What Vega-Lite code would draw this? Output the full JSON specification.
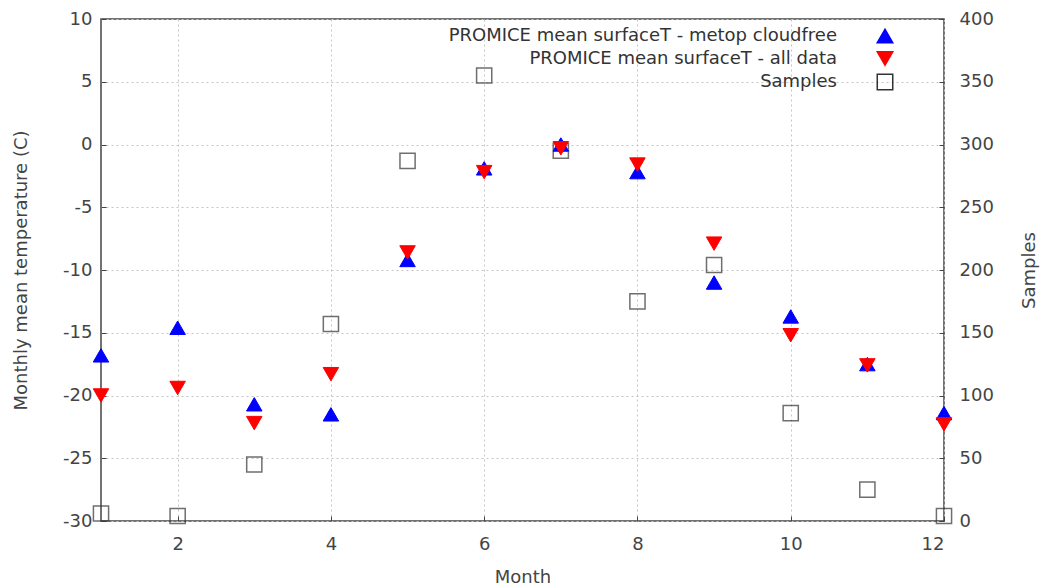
{
  "$schema": "https://vega.github.io/schema/vega-lite/v6.json",
  "width": 843,
  "height": 502,
  "autosize": {"type": "none"},
  "padding": {"left": 101, "top": 19, "right": 97, "bottom": 65},
  "background": "white",
  "datasets": {
    "temps": [
      {"month": 1, "series": "PROMICE mean surfaceT - metop cloudfree", "value": -16.8},
      {"month": 2, "series": "PROMICE mean surfaceT - metop cloudfree", "value": -14.6},
      {"month": 3, "series": "PROMICE mean surfaceT - metop cloudfree", "value": -20.7},
      {"month": 4, "series": "PROMICE mean surfaceT - metop cloudfree", "value": -21.5},
      {"month": 5, "series": "PROMICE mean surfaceT - metop cloudfree", "value": -9.2},
      {"month": 6, "series": "PROMICE mean surfaceT - metop cloudfree", "value": -1.9},
      {"month": 7, "series": "PROMICE mean surfaceT - metop cloudfree", "value": 0.0},
      {"month": 8, "series": "PROMICE mean surfaceT - metop cloudfree", "value": -2.2},
      {"month": 9, "series": "PROMICE mean surfaceT - metop cloudfree", "value": -11.0},
      {"month": 10, "series": "PROMICE mean surfaceT - metop cloudfree", "value": -13.7},
      {"month": 11, "series": "PROMICE mean surfaceT - metop cloudfree", "value": -17.5},
      {"month": 12, "series": "PROMICE mean surfaceT - metop cloudfree", "value": -21.4},
      {"month": 1, "series": "PROMICE mean surfaceT - all data", "value": -20.0},
      {"month": 2, "series": "PROMICE mean surfaceT - all data", "value": -19.4},
      {"month": 3, "series": "PROMICE mean surfaceT - all data", "value": -22.2},
      {"month": 4, "series": "PROMICE mean surfaceT - all data", "value": -18.3},
      {"month": 5, "series": "PROMICE mean surfaceT - all data", "value": -8.6},
      {"month": 6, "series": "PROMICE mean surfaceT - all data", "value": -2.2},
      {"month": 7, "series": "PROMICE mean surfaceT - all data", "value": -0.3},
      {"month": 8, "series": "PROMICE mean surfaceT - all data", "value": -1.6},
      {"month": 9, "series": "PROMICE mean surfaceT - all data", "value": -7.9},
      {"month": 10, "series": "PROMICE mean surfaceT - all data", "value": -15.2},
      {"month": 11, "series": "PROMICE mean surfaceT - all data", "value": -17.6},
      {"month": 12, "series": "PROMICE mean surfaceT - all data", "value": -22.3}
    ],
    "samples": [
      {"month": 1, "series": "Samples", "samples": 6},
      {"month": 2, "series": "Samples", "samples": 4},
      {"month": 3, "series": "Samples", "samples": 45},
      {"month": 4, "series": "Samples", "samples": 157},
      {"month": 5, "series": "Samples", "samples": 287},
      {"month": 6, "series": "Samples", "samples": 355},
      {"month": 7, "series": "Samples", "samples": 295},
      {"month": 8, "series": "Samples", "samples": 175},
      {"month": 9, "series": "Samples", "samples": 204},
      {"month": 10, "series": "Samples", "samples": 86},
      {"month": 11, "series": "Samples", "samples": 25},
      {"month": 12, "series": "Samples", "samples": 4}
    ]
  },
  "layer": [
    {
      "data": {"name": "samples"},
      "mark": {"type": "point", "size": 230, "strokeWidth": 1.5, "clip": false},
      "encoding": {
        "x": {"field": "month", "type": "quantitative", "scale": {"domain": [1, 12], "nice": false, "zero": false},
              "axis": {"title": "Month", "values": [2, 4, 6, 8, 10, 12], "labelExpr": "'' + datum.value"}},
        "y": {"field": "samples", "type": "quantitative", "scale": {"domain": [0, 400], "nice": false},
              "axis": {"orient": "right", "title": "Samples", "titleAngle": 270, "titleBaseline": "bottom", "values": [0, 50, 100, 150, 200, 250, 300, 350, 400], "grid": false, "labelPadding": 20, "titlePadding": 45, "labelExpr": "'' + datum.value"}},
        "shape": {"field": "series", "type": "nominal", "scale": {"domain": ["PROMICE mean surfaceT - metop cloudfree", "PROMICE mean surfaceT - all data", "Samples"], "range": ["triangle-up", "triangle-down", "square"]}},
        "fill": {"field": "series", "type": "nominal", "scale": {"domain": ["PROMICE mean surfaceT - metop cloudfree", "PROMICE mean surfaceT - all data", "Samples"], "range": ["#0000ff", "#ff0000", "transparent"]}},
        "stroke": {"field": "series", "type": "nominal", "scale": {"domain": ["PROMICE mean surfaceT - metop cloudfree", "PROMICE mean surfaceT - all data", "Samples"], "range": ["#0000ff", "#ff0000", "#333333"]}}
      }
    },
    {
      "data": {"name": "temps"},
      "mark": {"type": "point", "size": 240, "filled": true, "opacity": 1, "strokeWidth": 1, "clip": false},
      "encoding": {
        "x": {"field": "month", "type": "quantitative"},
        "y": {"field": "value", "type": "quantitative", "scale": {"domain": [-30, 10], "nice": false},
              "axis": {"orient": "left", "title": "Monthly mean temperature (C)", "values": [-30, -25, -20, -15, -10, -5, 0, 5, 10], "grid": true, "titlePadding": 32, "labelExpr": "'' + datum.value"}},
        "shape": {"field": "series", "type": "nominal"},
        "fill": {"field": "series", "type": "nominal"},
        "stroke": {"field": "series", "type": "nominal"}
      }
    }
  ],
  "resolve": {"scale": {"y": "independent"}},
  "config": {
    "view": {"stroke": "#444444", "strokeWidth": 1.5},
    "font": "DejaVu Sans",
    "axis": {
      "labelFont": "DejaVu Sans", "titleFont": "DejaVu Sans",
      "labelFontSize": 18, "titleFontSize": 18, "titleFontWeight": "normal",
      "labelColor": "#444444", "titleColor": "#444444",
      "domain": false, "tickColor": "#444444", "tickSize": -5, "labelPadding": 14,
      "gridColor": "#c4c4c4", "gridDash": [2, 3], "gridWidth": 1
    },
    "axisX": {"grid": true, "labelPadding": 19, "titlePadding": 15},
    "legend": {
      "title": null, "orient": "none", "legendX": 775, "legendY": 8,
      "labelFont": "DejaVu Sans", "labelFontSize": 18, "labelColor": "#333333",
      "labelAlign": "right", "labelOffset": -57, "symbolSize": 240, "rowPadding": 2.5,
      "symbolStrokeWidth": 1.5, "labelLimit": 600, "symbolOpacity": 1
    }
  }
}
